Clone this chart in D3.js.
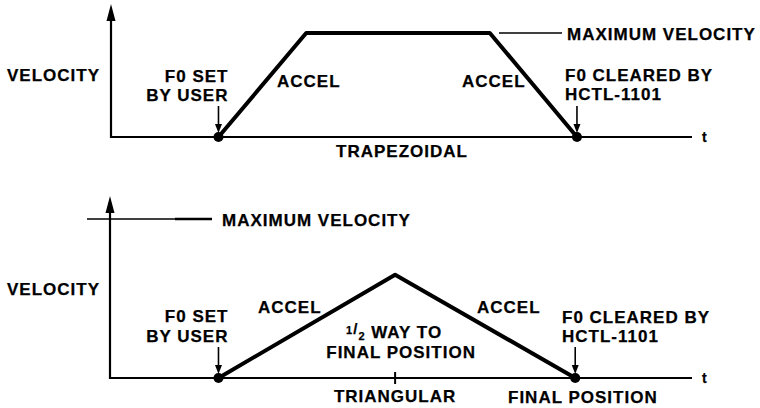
<!DOCTYPE html>
<html><head><meta charset="utf-8">
<script src="https://cdn.jsdelivr.net/npm/d3@7"></script>
<style>
html,body{margin:0;padding:0;background:#fff;}
text{font-family:"Liberation Sans",Arial,sans-serif;font-weight:bold;font-size:17px;fill:#000;letter-spacing:1px;stroke:#000;stroke-width:0.25px;}
</style></head>
<body><svg id="c" width="760" height="408"></svg>
<script>
// Data (time in arbitrary units 0..100, velocity as % of maximum)
const trapTime = [18.5, 33.6, 65.2, 80.2];
const trapVel  = [0, 100, 100, 0];
const triTime  = [18.5, 48.9, 79.9];
const triVel   = [0, 65, 0];
const trapLabels = ["VELOCITY", "F0 SET", "BY USER", "ACCEL", "ACCEL", "MAXIMUM VELOCITY", "F0 CLEARED BY", "HCTL-1101", "TRAPEZOIDAL", "t"];
const triLabels  = ["VELOCITY", "F0 SET", "BY USER", "ACCEL", "ACCEL", "MAXIMUM VELOCITY", "F0 CLEARED BY", "HCTL-1101", "TRIANGULAR", "t", "FINAL POSITION", "WAY TO", "FINAL POSITION"];

const svg = d3.select("#c");
const x = d3.scaleLinear().domain([0, 100]).range([111, 692]);
const yTop = d3.scaleLinear().domain([0, 100]).range([137, 33]);
const yBot = d3.scaleLinear().domain([0, 100]).range([378, 219]);

function arrowDown(g, cx, y0, y1) {
  g.append("line").attr("x1", cx).attr("x2", cx).attr("y1", y0).attr("y2", y1 - 7)
    .attr("stroke", "#000").attr("stroke-width", 1.6);
  g.append("path").attr("d", `M${cx-3.5},${y1-9} L${cx+3.5},${y1-9} L${cx},${y1} Z`).attr("fill", "#000");
}

function panel(yS, times, vels, axisTop, L, opts) {
  const g = svg.append("g");
  const base = yS(0);
  const ax = opts.axisX;
  g.append("line").attr("x1", ax).attr("x2", ax).attr("y1", axisTop + 14).attr("y2", base + 1)
    .attr("stroke", "#000").attr("stroke-width", 2.2);
  g.append("path").attr("d", `M${ax},${axisTop} L${ax+4.5},${axisTop+17} L${ax-4.5},${axisTop+17} Z`).attr("fill", "#000");
  g.append("line").attr("x1", ax - 1).attr("x2", x(100)).attr("y1", base).attr("y2", base)
    .attr("stroke", "#000").attr("stroke-width", 1.8);
  const line = d3.line().x((d, i) => x(times[i])).y((d) => yS(d)).curve(d3.curveLinear);
  g.append("path").datum(vels).attr("d", line).attr("fill", "none")
    .attr("stroke", "#000").attr("stroke-width", 4).attr("stroke-linejoin", "round");
  [times[0], times[times.length - 1]].forEach(t => {
    g.append("circle").attr("cx", x(t)).attr("cy", base).attr("r", 5).attr("fill", "#000");
  });
  arrowDown(g, x(times[0]), base - 31, base - 4);
  arrowDown(g, x(times[times.length - 1]), base - 31, base - 4);
  g.append("text").attr("x", 100).attr("y", opts.velY).attr("text-anchor", "end").text(L[0]);
  g.append("text").attr("x", x(times[0]) + 10).attr("y", opts.f0Y).attr("text-anchor", "end").text(L[1]);
  g.append("text").attr("x", x(times[0]) + 10).attr("y", opts.f0Y + opts.gap).attr("text-anchor", "end").text(L[2]);
  g.append("text").attr("x", opts.accel1X).attr("y", opts.accelY).text(L[3]);
  g.append("text").attr("x", opts.accel2X).attr("y", opts.accelY).text(L[4]);
  g.append("text").attr("x", opts.clrX).attr("y", opts.clrY).text(L[6]);
  g.append("text").attr("x", opts.clrX).attr("y", opts.clrY + 19).text(L[7]);
  g.append("text").attr("x", x(100) + 10).attr("y", base + 5).attr("text-anchor", "start")
    .style("font-size", "14px").text(L[9]);
  return g;
}

// Top: trapezoidal
const gT = panel(yTop, trapTime, trapVel, 4, trapLabels,
  {axisX: 111, velY: 81, f0Y: 82, gap: 19, accel1X: 277, accel2X: 462, accelY: 87, clrX: 565, clrY: 81});
gT.append("line").attr("x1", 499).attr("x2", 562).attr("y1", yTop(100)).attr("y2", yTop(100))
  .attr("stroke", "#000").attr("stroke-width", 1.5);
gT.append("text").attr("x", 567).attr("y", yTop(100) + 7).text(trapLabels[5]);
gT.append("text").attr("x", 402).attr("y", 157).attr("text-anchor", "middle").text(trapLabels[8]);

// Bottom: triangular
const gB = panel(yBot, triTime, triVel, 196, triLabels,
  {axisX: 110, velY: 295, f0Y: 322, gap: 20, accel1X: 258, accel2X: 477, accelY: 313, clrX: 562, clrY: 323});
gB.append("line").attr("x1", 87).attr("x2", 176).attr("y1", yBot(100)).attr("y2", yBot(100))
  .attr("stroke", "#000").attr("stroke-width", 1.3);
gB.append("line").attr("x1", 175).attr("x2", 212).attr("y1", yBot(100)).attr("y2", yBot(100))
  .attr("stroke", "#000").attr("stroke-width", 2.6);
gB.append("text").attr("x", 222).attr("y", yBot(100) + 7).text(triLabels[5]);
const px = x(triTime[1]);
gB.append("line").attr("x1", px).attr("x2", px).attr("y1", yBot(0) - 6).attr("y2", yBot(0) + 6)
  .attr("stroke", "#000").attr("stroke-width", 2);
gB.append("text").attr("x", px).attr("y", 402).attr("text-anchor", "middle").text(triLabels[8]);
gB.append("text").attr("x", 508).attr("y", 403).text(triLabels[10]);
const half = gB.append("text").attr("x", px - 1).attr("y", 338).attr("text-anchor", "middle");
half.append("tspan").style("font-size", "11px").attr("dy", -4).text("1");
half.append("tspan").style("font-size", "15px").attr("dy", 0).text("/");
half.append("tspan").style("font-size", "11px").attr("dy", 6).text("2");
half.append("tspan").attr("dy", -2).text(" " + triLabels[11]);
gB.append("text").attr("x", px + 6).attr("y", 358).attr("text-anchor", "middle").text(triLabels[12]);
</script></body></html>
